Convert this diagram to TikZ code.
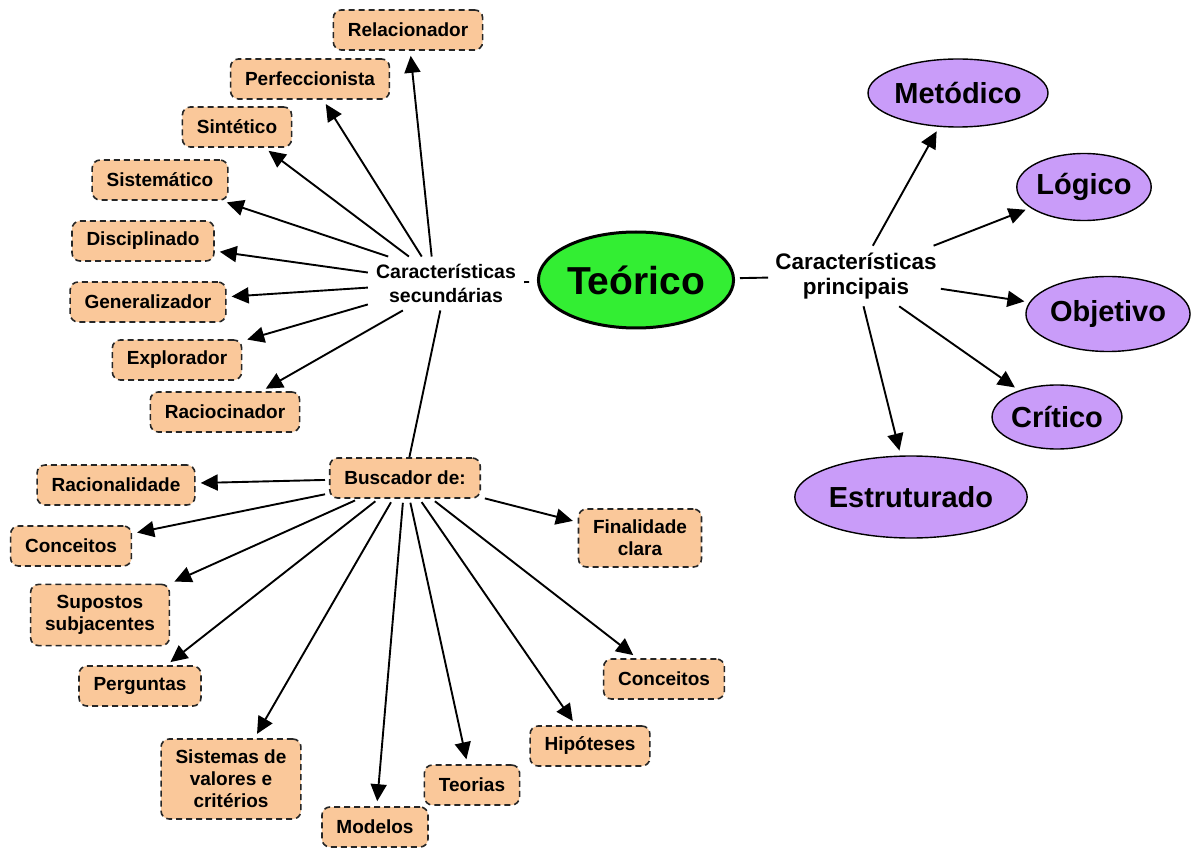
\documentclass[tikz,border=0pt]{standalone}
\usepackage{fontspec}
\setmainfont{Liberation Sans}
\usetikzlibrary{arrows.meta,shapes.geometric}

\definecolor{peach}{HTML}{FAC89A}
\definecolor{lavender}{HTML}{C99CF9}
\definecolor{brightgreen}{HTML}{33EE33}

\begin{document}
\begin{tikzpicture}[x=1pt,y=-1pt,
  trait/.style={rectangle, rounded corners=8pt, draw=black!85, line width=1.6pt,
    dash pattern=on 6pt off 4pt, fill=peach, align=center,
    inner xsep=14.5pt, inner ysep=11pt, minimum height=40pt,
    font=\fontsize{19}{22}\selectfont\bfseries},
  quality/.style={ellipse, draw=black, line width=1.4pt, fill=lavender,
    inner sep=0pt, font=\fontsize{29}{32}\selectfont\bfseries},
  core/.style={ellipse, draw=black, line width=3pt, fill=brightgreen,
    inner sep=0pt, font=\fontsize{39}{40}\selectfont\bfseries},
  phrase/.style={align=center, inner xsep=8pt, inner ysep=7.5pt,
    font=\fontsize{19.5}{24}\selectfont\bfseries},
  bigphrase/.style={align=center, inner xsep=4pt, inner ysep=7pt,
    font=\fontsize{22.5}{25}\selectfont\bfseries},
  link/.style={line width=1.9pt},
  arr/.style={link, -{Triangle[length=17pt,width=16pt]}, shorten >=5pt}
]
\fill[white] (0,0) rectangle (1192,850);
\useasboundingbox (0,0) rectangle (1192,850);

% central concept and its two linking phrases
\node[core, minimum width=185pt, minimum height=96pt] (teo) at (636,280) {Teórico};
\node[phrase] (sec) at (446,283.5) {Características\\secundárias};
\node[bigphrase] (princ) at (856,276) {Características\\principais};

% main characteristics
\node[quality, minimum width=162pt, minimum height=68pt] (met) at (958,93) {Metódico};
\node[quality, minimum width=133pt, minimum height=67pt] (log) at (1084,187) {Lógico};
\node[quality, minimum width=155pt, minimum height=75pt] (obj) at (1108,314) {Objetivo};
\node[quality, minimum width=128pt, minimum height=64pt] (cri) at (1057,417) {Crítico};
\node[quality, minimum width=198pt, minimum height=82pt] (est) at (911,497) {Estruturado};

% secondary characteristics
\node[trait] (rel) at (408,30) {Relacionador};
\node[trait] (per) at (310,79) {Perfeccionista};
\node[trait] (sin) at (237,127) {Sintético};
\node[trait] (sis) at (160,180) {Sistemático};
\node[trait] (dis) at (143,241) {Disciplinado};
\node[trait] (gen) at (148,302) {Generalizador};
\node[trait] (exp) at (177,360) {Explorador};
\node[trait] (rac) at (225,412) {Raciocinador};

% what the theorist looks for
\node[trait] (bus) at (405,478) {Buscador de:};
\node[trait] (racl) at (116,485) {Racionalidade};
\node[trait] (conl) at (71,546) {Conceitos};
\node[trait] (sup) at (100,615) {Supostos\\subjacentes};
\node[trait] (perg) at (140,686) {Perguntas};
\node[trait] (sval) at (231,779) {Sistemas de\\valores e\\critérios};
\node[trait] (mod) at (375,827) {Modelos};
\node[trait] (teor) at (472,785) {Teorias};
\node[trait] (hip) at (590,746) {Hipóteses};
\node[trait] (conr) at (664,679) {Conceitos};
\node[trait] (fin) at (640,538) {Finalidade\\clara};

% plain links
\draw[link, shorten >=8pt] (sec) -- (teo);
\draw[link, shorten <=5pt, shorten >=3pt] (teo) -- (princ);
\draw[link] (sec) -- (bus);

% arrows to the main characteristics
\foreach \t in {met,log,obj,cri,est}
  \draw[arr] (princ) -- (\t);

% arrows to the secondary characteristics
\draw[arr] (sec.118) -- (rel);
\draw[arr] (sec.132) -- (per);
\draw[arr] (sec.144) -- (sin);
\draw[arr] (sec.155) -- (sis);
\draw[arr] (sec.172) -- (dis);
\draw[arr] (sec.183) -- (gen);
\draw[arr] (sec.195) -- (exp);
\draw[arr] (sec.212) -- (rac);

% arrows from "Buscador de:"
\foreach \t in {racl,conl,sup,perg,sval,mod,teor,hip,conr,fin}
  \draw[arr, shorten <=4pt] (bus) -- (\t);
\end{tikzpicture}
\end{document}
